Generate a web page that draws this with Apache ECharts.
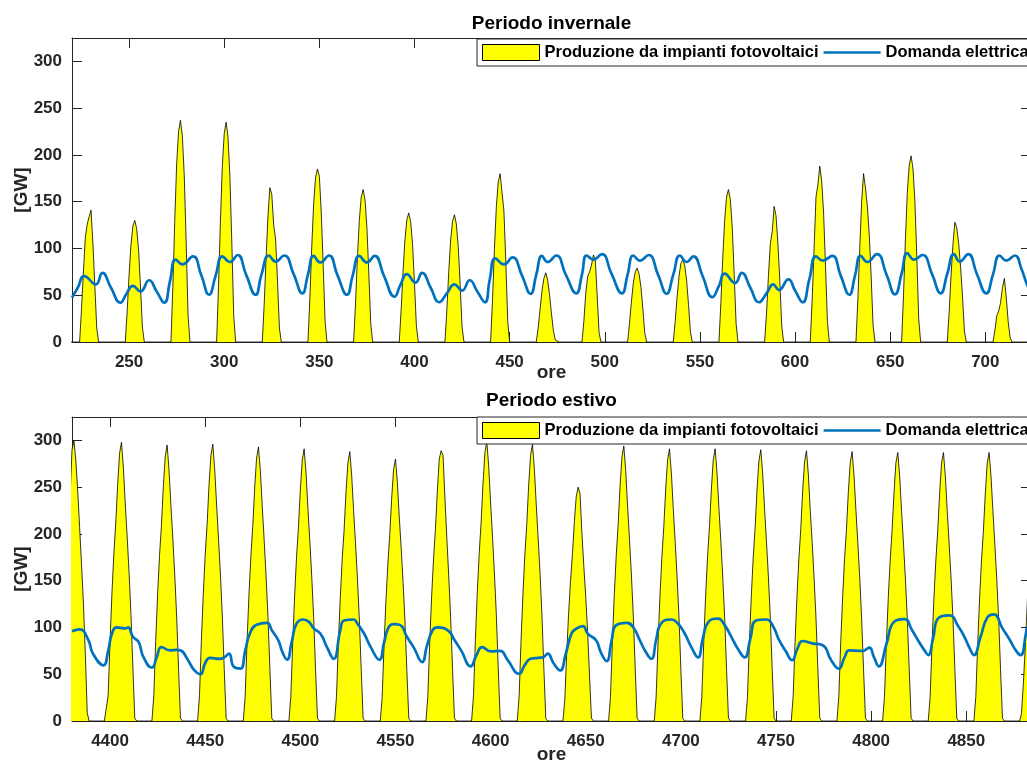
<!DOCTYPE html>
<html><head><meta charset="utf-8">
<script src="https://cdn.jsdelivr.net/npm/echarts@6/dist/echarts.min.js"></script>
<style>html,body{margin:0;padding:0;background:#fff}#c{width:1027px;height:760px}</style>
</head><body><div id="c"></div>
<script>
const panelTitles = ['Periodo invernale', 'Periodo estivo'];
const seriesNames = ['Produzione da impianti fotovoltaici', 'Domanda elettrica'];
const xAxisName = 'ore';
const yAxisName = '[GW]';
const yTicks = [0, 50, 100, 150, 200, 250, 300];
const winterTicks = [250, 300, 350, 400, 450, 500, 550, 600, 650, 700];
const summerTicks = [4400, 4450, 4500, 4550, 4600, 4650, 4700, 4750, 4800, 4850];
const winterRange = [220, 724];
const summerRange = [4380, 4884];
const yMax = 325;

// PV production, hourly, one row per day (hour 0..23); first row starts at hour 216
const pvWinterStart = 216;
const pvWinter = [
  [0,0,0,0,0,0,0,0,0,35,75,112,126,134,141,105,60,15,0,0,0,0,0,0],
  [0,0,0,0,0,0,0,0,0,33,72,104,124,130,121,98,59,16,0,0,0,0,0,0],
  [0,0,0,0,0,0,0,0,0,59,130,190,225,237,220,178,107,28,0,0,0,0,0,0],
  [0,0,0,0,0,0,0,0,0,59,129,188,223,235,219,176,106,28,0,0,0,0,0,0],
  [0,0,0,0,0,0,0,0,0,40,90,135,165,158,125,110,65,15,0,0,0,0,0,0],
  [0,0,0,0,0,0,0,0,0,46,102,148,176,185,177,139,83,22,0,0,0,0,0,0],
  [0,0,0,0,0,0,0,0,0,41,90,130,155,163,152,122,73,20,0,0,0,0,0,0],
  [0,0,0,0,0,0,0,0,0,35,76,110,131,138,128,104,62,17,0,0,0,0,0,0],
  [0,0,0,0,0,0,0,0,0,34,75,109,129,136,126,102,61,16,0,0,0,0,0,0],
  [0,0,0,0,0,0,0,0,0,45,99,144,171,180,160,140,85,22,0,0,0,0,0,0],
  [0,0,0,0,0,0,0,0,0,15,35,55,68,74,66,50,30,12,2,0,0,0,0,0],
  [0,0,0,0,0,0,0,0,0,22,52,70,75,82,93,88,50,10,0,0,0,0,0,0],
  [0,0,0,0,0,0,0,0,0,20,43,63,75,79,73,59,36,10,0,0,0,0,0,0],
  [0,0,0,0,0,0,0,0,0,22,48,70,84,88,82,66,40,11,0,0,0,0,0,0],
  [0,0,0,0,0,0,0,0,0,41,90,130,155,163,152,122,73,20,0,0,0,0,0,0],
  [0,0,0,0,0,0,0,0,0,30,70,105,118,145,135,105,65,17,0,0,0,0,0,0],
  [0,0,0,0,0,0,0,0,0,45,100,155,168,188,172,138,82,22,0,0,0,0,0,0],
  [0,0,0,0,0,0,0,0,0,45,100,150,180,165,145,115,70,18,0,0,0,0,0,0],
  [0,0,0,0,0,0,0,0,0,50,110,160,189,199,185,150,90,24,0,0,0,0,0,0],
  [0,0,0,0,0,0,0,0,0,32,72,105,128,122,105,80,48,12,0,0,0,0,0,0],
  [0,0,0,0,0,0,0,0,0,12,28,33,42,58,68,48,22,5,0,0,0,0,0,0],
  [0,0,0,0,0]
];

// Electricity demand, key points [hour, GW]
const demandWinter = [
  [220,47.5],[223,58],[226.5,70.5],[232.5,61.5],[236,74],[240.5,58],[245.5,42],
  [248.5,51],[252,60],[256,54],[260.5,66],[264.5,54],[268.5,42],
  [271.5,65],[274.5,88],[278,83],[283.5,91.5],[288,71],[292,50.5],
  [295.5,71],[299,91.5],[303,85.5],[307,93],[311.5,72],[316.5,50.5],
  [319.5,71.5],[323.5,92.5],[327,86],[331.5,92.5],[336.5,72.5],[341,52],
  [344,72],[347,92],[350.5,85],[355,92.5],[359.5,71.5],[364.5,50.5],
  [367.5,71],[371,92],[375,85],[379,92],[384,70.5],[389.5,48.5],
  [392.5,60.5],[396,72.5],[400.5,63.5],[404,74],[408.5,58],[413,42.5],
  [417,52],[421,61.5],[425,55],[429,66],[433,54],[437,42.5],
  [439.5,66],[442.5,89.5],[447,83],[451.5,90.5],[456.5,71],[461,51.5],
  [464,72],[467,92],[470,85.5],[474.5,92.5],[479.5,72],[485,52],
  [488,72],[490.5,92.5],[494,88],[498.5,94],[503.5,73],[509,52],
  [512,72],[515,92.5],[518.5,87],[523,93],[528,72],[532.5,51.5],
  [536,72],[539.5,92.5],[543,85.5],[546.5,91.5],[551.5,70],[556.5,48],
  [560,60],[563,73],[568.5,63],[572,74],[576.5,58],[581,42.5],
  [585,52],[588.5,61.5],[591.5,55.5],[596.5,67],[600,55],[604,42.5],
  [607.5,67],[611,91.5],[614.5,87],[619.5,92],[624,71],[628.5,50.5],
  [631.5,71],[634.5,92],[638,85.5],[643,94],[648,72.5],[652.5,51],
  [656,73],[659,95],[662.5,88],[667,93],[672,72.5],[676.5,52],
  [680,73],[683.5,94],[686.5,86],[691,94],[695.5,73],[700.5,52],
  [704,72],[707.5,92.5],[711,87],[715.5,92.5],[719,78],[722,61],[724,54]
];

const pvSummerStart = 4368;
const pvSummer = [
  [0,0,0,0,0,0,0,30,90,140,185,240,290,300,279,246,207,168,126,72,9,0,0,0],
  [0,0,0,0,0,0,0,27,86,137,179,212,253,286,298,271,232,197,158,113,57,3,0,0],
  [0,0,0,0,0,0,0,27,86,136,177,209,251,283,295,268,230,195,156,112,56,3,0,0],
  [0,0,0,0,0,0,0,27,86,136,178,210,252,284,296,269,231,195,157,112,56,3,0,0],
  [0,0,0,0,0,0,0,26,85,135,176,208,249,281,293,267,229,193,155,111,56,3,0,0],
  [0,0,0,0,0,0,0,26,84,134,175,207,247,279,291,265,227,192,154,111,55,3,0,0],
  [0,0,0,0,0,0,0,26,84,132,173,204,245,276,288,262,225,190,153,109,55,3,0,0],
  [0,0,0,0,0,0,0,25,81,129,168,199,238,269,280,255,218,185,148,106,53,3,0,0],
  [0,0,0,0,0,0,0,26,84,133,173,205,246,280,289,284,238,195,155,110,55,3,0,0],
  [0,0,0,0,0,0,0,27,87,138,179,212,254,287,299,272,233,197,158,114,57,3,0,0],
  [0,0,0,0,0,0,0,27,86,136,178,210,252,284,296,269,231,195,157,112,56,3,0,0],
  [0,0,0,0,0,0,0,23,73,115,150,178,213,240,250,243,200,165,133,95,48,3,0,0],
  [0,0,0,0,0,0,0,26,85,135,176,209,250,282,294,268,229,194,156,112,56,3,0,0],
  [0,0,0,0,0,0,0,26,84,134,175,207,247,279,291,265,227,192,154,111,55,3,0,0],
  [0,0,0,0,0,0,0,26,84,134,175,207,247,279,291,265,227,192,154,111,55,3,0,0],
  [0,0,0,0,0,0,0,26,84,133,174,206,247,278,290,264,226,191,154,110,55,3,0,0],
  [0,0,0,0,0,0,0,26,84,133,173,205,246,277,289,263,225,191,153,110,55,3,0,0],
  [0,0,0,0,0,0,0,26,84,132,173,204,245,276,288,262,225,190,153,109,55,3,0,0],
  [0,0,0,0,0,0,0,26,83,132,172,204,244,276,287,261,224,189,152,109,55,3,0,0],
  [0,0,0,0,0,0,0,26,83,132,172,204,244,276,287,261,224,189,152,109,55,3,0,0],
  [0,0,0,0,0,0,0,26,83,132,172,204,244,276,287,261,224,189,152,109,55,3,0,0],
  [0,0,0,0,0,0,0,8,40,80,125,170,210]
];

const demandSummer = [
  [4380,96],[4384,98],[4388.5,87],[4391,72],[4396.5,59.5],
  [4399,75],[4401,93.5],[4403.5,100],[4408,99],[4409.5,100],[4412,90],[4415,84.5],[4417.5,68.5],[4422,57],
  [4424.5,68],[4427,79],[4431.5,75.5],[4435,76],[4437,75.5],[4441,65],[4444,55],[4447.5,50],
  [4450,62],[4452.5,67.5],[4457.5,66.5],[4460,68],[4462.5,72],[4465,58],[4468.5,56],
  [4471,75],[4473.5,93.5],[4477,103],[4482.5,105],[4485,97],[4488.5,86],[4490.5,74],[4493,65.5],
  [4495.5,85],[4498,104],[4501.5,108.5],[4504.5,106],[4507,99],[4510.5,93.5],[4514,79],[4517.5,66.5],
  [4521,97],[4523,107.5],[4528,108.5],[4530,104],[4533.5,93.5],[4537,79],[4541.5,65.5],
  [4544,84],[4546.5,100.5],[4549,103.5],[4552.5,102.5],[4556,90],[4559.5,79],[4564,63],
  [4566.5,80],[4569.5,97],[4572,100],[4577.5,97],[4581,86.5],[4584.5,75.5],[4589.5,58.5],
  [4592.5,70],[4595.5,79],[4600,74.5],[4605,75],[4609,65],[4615,50.5],
  [4618,60],[4621,66.5],[4625,67.5],[4627.5,68],[4630,72],[4633,62],[4636.5,54],
  [4639.5,72],[4642.5,93.5],[4644.5,98],[4648.5,101.5],[4651,93.5],[4655.5,86],[4658,73],[4661,64],
  [4663.5,85],[4666,102.5],[4671.5,105],[4675,100],[4678.5,86],[4681.5,74],[4684.5,66.5],
  [4687,87],[4689.5,104],[4695,108.5],[4698.5,104],[4702,93.5],[4705.5,79],[4709,68],
  [4711.5,88],[4714.5,106],[4719.5,109.5],[4723,102.5],[4726.5,90],[4730,77],[4733.5,68],
  [4736.5,88],[4739.5,107.5],[4745,108.5],[4748.5,101],[4751.5,87],[4755,75],[4758.5,65],
  [4761,76],[4764,85.5],[4769,83],[4774.5,81],[4779,65],[4783,56],
  [4786,68],[4788.5,75.5],[4795.5,75],[4799,78.5],[4801.5,68],[4804,58.5],
  [4808,82],[4812,106],[4817.5,109],[4821.5,97],[4825,85],[4828,75.5],[4830,70.5],
  [4832.5,88],[4835.5,110.5],[4841,113],[4846,100.5],[4849,90],[4851.5,79],[4854,70.5],
  [4857.5,90],[4861,110.5],[4864.5,114],[4869,99],[4872.5,88],[4876,75.5],[4878.5,70.5],[4882,99],[4884,106]
];

function hourly(start, rows) {
  const out = [];
  rows.forEach((r, d) => r.forEach((v, h) => out.push([start + 24 * d + h, v])));
  return out;
}

const FONT = "'Liberation Sans', Arial, Helvetica, sans-serif";
const AX = '#262626';
const axisLineStyle = { color: AX, width: 1 };
const tickLabel = { color: AX, fontSize: 17, fontWeight: 'bold', fontFamily: FONT, formatter: v => String(v) };
const nameStyle = { color: AX, fontSize: 19, fontWeight: 'bold', fontFamily: FONT };

const grids = [
  { left: 72, top: 38, width: 959, height: 304, containLabel: false, outerBoundsMode: 'none' },
  { left: 72, top: 417, width: 959, height: 304, containLabel: false, outerBoundsMode: 'none' }
];

function xAxes(g, range, ticks, gap) {
  return [
    { gridIndex: g, type: 'value', position: 'bottom', min: range[0], max: range[1],
      name: xAxisName, nameLocation: 'middle', nameGap: gap, nameMoveOverlap: false, nameTextStyle: nameStyle,
      axisLine: { show: true, onZero: false, lineStyle: axisLineStyle },
      axisTick: { show: true, inside: true, length: 10, customValues: ticks, lineStyle: axisLineStyle },
      axisLabel: { show: true, customValues: ticks, margin: 12, ...tickLabel },
      splitLine: { show: false } },
    { gridIndex: g, type: 'value', position: 'top', min: range[0], max: range[1],
      axisLine: { show: true, onZero: false, lineStyle: axisLineStyle },
      axisTick: { show: true, inside: true, length: 10, customValues: ticks, lineStyle: axisLineStyle },
      axisLabel: { show: false }, splitLine: { show: false } }
  ];
}
function yAxes(g) {
  return [
    { gridIndex: g, type: 'value', position: 'left', min: 0, max: yMax,
      name: yAxisName, nameLocation: 'middle', nameGap: 41, nameMoveOverlap: false, nameTextStyle: nameStyle,
      axisLine: { show: true, onZero: false, lineStyle: axisLineStyle },
      axisTick: { show: true, inside: true, length: 10, customValues: yTicks, lineStyle: axisLineStyle },
      axisLabel: { show: true, customValues: yTicks, margin: 10, ...tickLabel },
      splitLine: { show: false } },
    { gridIndex: g, type: 'value', position: 'right', min: 0, max: yMax,
      axisLine: { show: true, onZero: false, lineStyle: axisLineStyle },
      axisTick: { show: true, inside: true, length: 10, customValues: yTicks, lineStyle: axisLineStyle },
      axisLabel: { show: false }, splitLine: { show: false } }
  ];
}

function pvSeries(xi, yi, data) {
  return { type: 'line', name: seriesNames[0], xAxisIndex: xi, yAxisIndex: yi, data,
    symbol: 'none', clip: true, z: 2,
    lineStyle: { color: '#000', width: 0.8 }, itemStyle: { color: '#FFFF00' },
    areaStyle: { color: '#FFFF00', opacity: 1 } };
}
function demandSeries(xi, yi, data) {
  return { type: 'line', name: seriesNames[1], xAxisIndex: xi, yAxisIndex: yi, data,
    symbol: 'none', smooth: 0.5, clip: true, z: 3,
    lineStyle: { color: '#0072BD', width: 2.7 }, itemStyle: { color: '#0072BD' } };
}
function legendAt(top) {
  return { left: 477, top, width: 700, orient: 'horizontal', padding: [5, 6, 5, 5],
    itemGap: 5, itemWidth: 57, itemHeight: 16, symbolKeepAspect: true,
    backgroundColor: '#fff', borderColor: AX, borderWidth: 1, borderRadius: 0,
    textStyle: { color: '#000', fontSize: 16.5, fontWeight: 'bold', fontFamily: FONT },
    selectedMode: false,
    data: [
      { name: seriesNames[0], icon: 'rect', itemStyle: { color: '#FFFF00', borderColor: '#000', borderWidth: 1 } },
      { name: seriesNames[1], icon: 'path://M0,0h57v2.7h-57z', itemStyle: { color: '#0072BD', borderWidth: 0 } }
    ] };
}

const chart = echarts.init(document.getElementById('c'), null, { renderer: 'canvas' });
chart.setOption({
  animation: false,
  backgroundColor: '#fff',
  textStyle: { fontFamily: FONT },
  grid: grids,
  xAxis: [...xAxes(0, winterRange, winterTicks, 21), ...xAxes(1, summerRange, summerTicks, 24)],
  yAxis: [...yAxes(0), ...yAxes(1)],
  legend: [legendAt(39), legendAt(417)],
  graphic: [
    { type: 'text', x: 551.5, y: 23.4, style: { text: panelTitles[0], textAlign: 'center', textVerticalAlign: 'middle', font: "bold 19px " + FONT, fill: '#000' } },
    { type: 'text', x: 551.5, y: 400.7, style: { text: panelTitles[1], textAlign: 'center', textVerticalAlign: 'middle', font: "bold 19px " + FONT, fill: '#000' } }
  ],
  series: [
    pvSeries(0, 0, hourly(pvWinterStart, pvWinter)),
    demandSeries(0, 0, demandWinter),
    pvSeries(2, 2, hourly(pvSummerStart, pvSummer)),
    demandSeries(2, 2, demandSummer)
  ]
});
</script></body></html>
